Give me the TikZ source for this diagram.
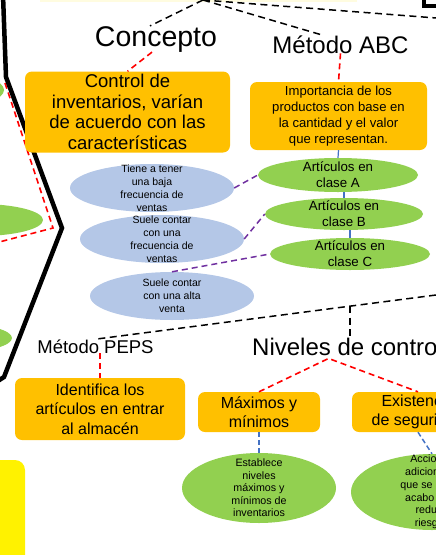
\documentclass[tikz,border=0pt]{standalone}
\usepackage{fontspec}
\setmainfont{Liberation Sans}
\usepackage{xcolor}
\definecolor{colOrange}{HTML}{FFC000}
\definecolor{colGreen}{HTML}{92D050}
\definecolor{colBlue}{HTML}{B4C7E7}
\definecolor{colPurple}{HTML}{7030A0}
\definecolor{colLink}{HTML}{4472C4}
\definecolor{colPale}{HTML}{FFFCE0}
\usetikzlibrary{shapes.geometric}

\newcommand{\setfs}[2]{\fontsize{#1}{#2}\selectfont}

\begin{document}
\begin{tikzpicture}[
				x=1pt, y=-1pt,
				title/.style={inner sep=0pt, anchor=base},
				card/.style={fill=colOrange, rounded corners=7pt, align=center, inner sep=0pt},
				oval/.style={ellipse, inner xsep=0pt, inner ysep=-14pt, align=center},
				greenoval/.style={oval, fill=colGreen},
				blueoval/.style={oval, fill=colBlue},
				blackdash/.style={line width=1.5pt, dash pattern=on 7pt off 4.5pt},
				reddash/.style={red, line width=1.6pt, dash pattern=on 6pt off 4pt},
				purpledash/.style={colPurple, line width=1.5pt, dash pattern=on 6pt off 4pt},
				bluedash/.style={colLink, line width=1.5pt, dash pattern=on 5pt off 3pt},
				bluelink/.style={colLink, line width=1.2pt}
			]
				\useasboundingbox (0,0) rectangle (436,555);
				\clip (0,0) rectangle (436,555);

				% left part of the map
				\fill[colPale] (40,-10) rectangle (357,2);
				\fill[colGreen] (-40,90) ellipse [x radius=44, y radius=16];
				\fill[colGreen] (-20,220) ellipse [x radius=63, y radius=16];
				\fill[colGreen] (-40,338) ellipse [x radius=52, y radius=14];
				\draw[reddash] (5,83) -- (53,228) -- (-20,247);
				\draw[line width=4.5pt] (3,-5) -- (6,77) -- (62,228) -- (4,377) -- (-10,386);
				\fill[yellow, rounded corners=10pt] (-20,460) rectangle (25,575);
				\draw[line width=4pt] (424,-10) -- (424,6) -- (450,6);

				\coordinate (apex) at (203,0);
				\coordinate (eastA) at (462,20);
				\coordinate (eastB) at (436,295);
				\coordinate (knee) at (350,306);

				\node[title, font=\setfs{28.5}{30}] (concepto) at (156,46) {Concepto};
				\node[title, font=\setfs{24}{26}] (abc) at (340.5,53) {Método ABC};
				\node[title, font=\setfs{18.5}{20}] (peps) at (95.5,353) {Método PEPS};
				\node[title, anchor=base west, font=\setfs{24}{26}] (niveles) at (252,355) {Niveles de control};

				\node[card, minimum width=205pt, minimum height=81pt, font=\setfs{18.5}{20.5}]
					(ctrl) at (127.5,112) {Control de\\inventarios, varían\\de acuerdo con las\\características};
				\node[card, minimum width=177pt, minimum height=68pt, font=\setfs{13.1}{16}]
					(imp) at (338.5,116) {Importancia de los\\productos con base en\\la cantidad y el valor\\que representan.};
				\node[card, minimum width=170pt, minimum height=62pt, font=\setfs{16}{19.5}]
					(ident) at (100,409) {Identifica los\\artículos en entrar\\al almacén};
				\node[card, minimum width=122pt, minimum height=40pt, font=\setfs{16}{19}]
					(maxmin) at (259,412) {Máximos y\\mínimos};
				\node[card, minimum width=132pt, minimum height=40pt, font=\setfs{16}{19}]
					(exist) at (418,412) {Existencia\\de seguridad};

				\node[greenoval, minimum width=160pt, minimum height=34pt, font=\setfs{13.3}{16}]
					(clA) at (338,175) {Artículos en\\clase A};
				\node[greenoval, minimum width=158pt, minimum height=32pt, font=\setfs{13.3}{16}]
					(clB) at (344,214) {Artículos en\\clase B};
				\node[greenoval, minimum width=160pt, minimum height=32pt, font=\setfs{13.3}{16}]
					(clC) at (350,254) {Artículos en\\clase C};
				\node[greenoval, minimum width=154pt, minimum height=70pt, font=\setfs{10.7}{12.5}]
					(estab) at (259,488) {Establece\\niveles\\máximos y\\mínimos de\\inventarios};
				\node[greenoval, minimum width=162pt, minimum height=76pt, font=\setfs{10.7}{12.8}]
					(accion) at (432,492) {Acciones\\adicionales\\que se llevan\\acabo para\\reducir\\riesgos};

				\node[blueoval, minimum width=164pt, minimum height=48pt, font=\setfs{10.5}{13}]
					(baja) at (152,188) {Tiene a tener\\una baja\\frecuencia de\\ventas};
				\node[blueoval, minimum width=164pt, minimum height=48pt, font=\setfs{10.5}{13}]
					(media) at (162,239) {Suele contar\\con una\\frecuencia de\\ventas};
				\node[blueoval, minimum width=164pt, minimum height=48pt, font=\setfs{10.5}{13}]
					(alta) at (172,296) {Suele contar\\con una alta\\venta};

				\draw[blackdash] (apex) -- ([xshift=-6pt]concepto.north);
				\draw[blackdash] (apex) -- ([xshift=-18pt]abc.north);
				\draw[blackdash] (apex) -- (eastA);
				\draw[reddash] ([xshift=-4pt]concepto.south) -- (ctrl.north);
				\draw[reddash] (abc.south) -- (imp.north);

				\draw[bluelink] (imp.south) -- (clA.north);
				\draw[bluelink] (clB.north |- clA.south) -- (clB.north);
				\draw[bluelink] (clC.north |- clB.south) -- (clC.north);

				\draw[purpledash] (baja.east) -- (clA.west);
				\draw[purpledash] (media.east) -- (clB.west);
				\draw[purpledash] (alta.north) -- (clC.west);

				\draw[blackdash] (eastB) -- (peps.north);
				\draw[blackdash] (knee) -- (knee |- niveles.north);
				\draw[reddash] (ident.north |- peps.south) -- (ident.north);
				\draw[reddash] (maxmin.north) -- ([shift={(-19pt,-3pt)}]niveles.south) -- (exist.north);
				\draw[bluedash] (maxmin.south) -- (estab.north);
				\draw[bluedash] (exist.south) -- (accion.north);
			\end{tikzpicture}
\end{document}
